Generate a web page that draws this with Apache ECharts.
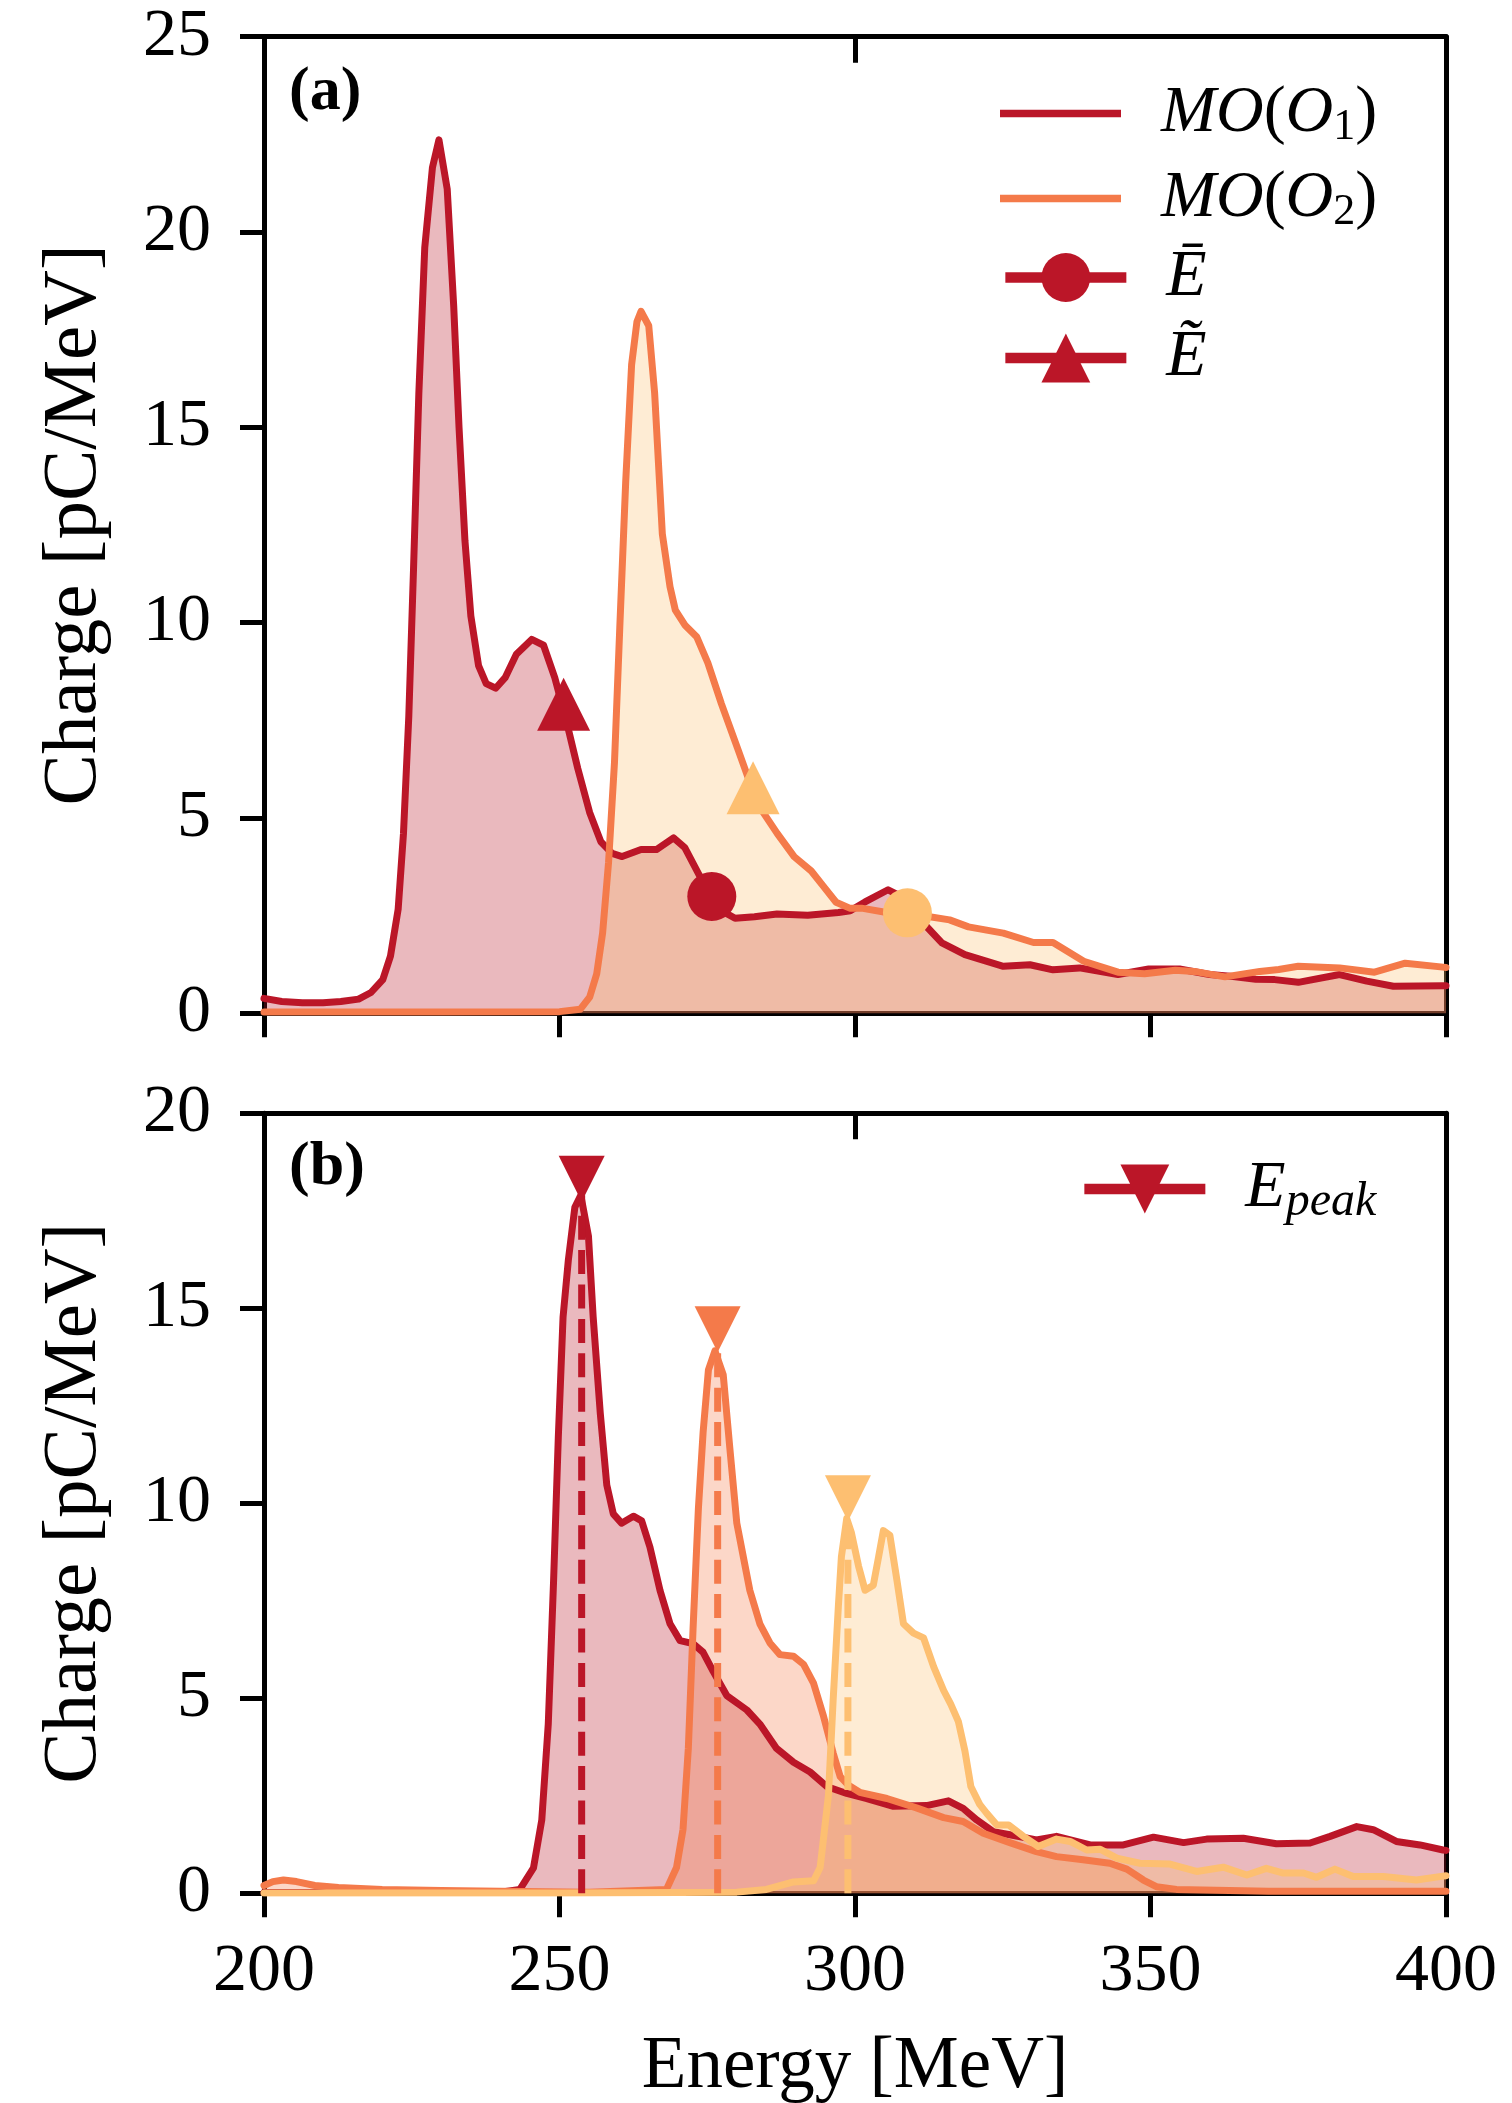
<!DOCTYPE html>
<html><head><meta charset="utf-8">
<script src="https://cdn.jsdelivr.net/npm/echarts@6/dist/echarts.min.js"></script>
<style>html,body{margin:0;padding:0;background:#fff}#c{width:1512px;height:2103px}</style>
</head><body><div id="c"></div>
<script>
// ---------- data ----------
const xTicks = [200, 250, 300, 350, 400];
const yTicksTop = [0, 5, 10, 15, 20, 25];
const yTicksBottom = [0, 5, 10, 15, 20];

// panel (a) MO(O1)  [energy MeV, charge pC/MeV]
const topRed = [[200,0.38],[203,0.3],[206.5,0.27],[210,0.27],[213,0.3],[216,0.36],[218.1,0.53],[220.1,0.86],[221.4,1.46],[222.7,2.66],[223.6,4.6],[224.5,7.6],[225.3,11.37],[226.2,15.87],[227.2,19.6],[228.5,21.65],[229.6,22.36],[231,21.1],[232.1,18.1],[233,15.0],[234,12.1],[235,10.17],[236.3,8.9],[237.6,8.44],[239.2,8.32],[240.8,8.59],[242.7,9.19],[245.3,9.57],[247.3,9.42],[249.2,8.59],[251.2,7.46],[253.1,6.26],[255.1,5.14],[257,4.39],[258.9,4.09],[260.6,4.01],[263.8,4.19],[266.4,4.19],[269.3,4.49],[271.2,4.24],[273.8,3.49],[275.8,2.96],[277.7,2.6],[279.7,2.43],[283,2.47],[286.8,2.54],[292,2.51],[297.2,2.58],[299.2,2.62],[301.7,2.85],[305.6,3.16],[308.9,2.91],[312.1,2.22],[314.7,1.8],[318.6,1.5],[325.1,1.2],[329.6,1.24],[333.5,1.11],[338,1.16],[344.5,0.99],[349.7,1.13],[354.9,1.13],[360,0.99],[364,0.94],[367.8,0.87],[371,0.86],[375,0.79],[382,0.99],[386.6,0.82],[391.1,0.69],[399.5,0.7],[400,0.7]];
// panel (a) MO(O2)
const topOrange = [[200,0.03],[230,0.03],[250,0.04],[253.5,0.1],[255.1,0.41],[256.3,1.01],[257.3,2.06],[258.3,3.86],[259.3,6.41],[260.2,9.87],[261.2,13.6],[262.2,16.6],[263.1,17.7],[263.8,17.97],[265.1,17.6],[266.1,15.87],[267.4,12.27],[268.7,10.92],[269.6,10.32],[271.2,9.94],[273.2,9.64],[275.1,8.97],[277.4,7.92],[280.3,6.71],[283.5,5.36],[286.8,4.61],[289.7,4.01],[292.6,3.64],[294.6,3.26],[296.8,2.84],[299.1,2.69],[301.1,2.69],[305.6,2.57],[312.1,2.48],[316,2.39],[319.2,2.21],[325.1,2.05],[330.2,1.81],[333.5,1.81],[338.7,1.33],[344.5,1.05],[349,1.01],[354.2,1.1],[357.4,1.07],[362.6,0.93],[368.5,1.07],[371.7,1.12],[375,1.2],[382,1.16],[387.9,1.05],[393.1,1.28],[399.5,1.18],[400,1.17]];
// mean energy (E bar) and median energy (E tilde) markers
const meanEnergy = [[275.77,2.99],[308.87,2.57]];
const medianEnergy = [[250.7,7.91],[282.75,5.77]];

// panel (b) three spectra
const botRed = [[200,0.02],[220,0.02],[240,0.03],[243.3,0.1],[245.6,0.65],[247,1.88],[248.1,4.34],[249,8.02],[249.8,11.7],[250.6,14.77],[251.5,16.24],[252.6,17.59],[253.6,17.9],[254.9,16.85],[255.7,14.77],[256.9,12.31],[258,10.47],[259.1,9.73],[260.5,9.49],[262.5,9.67],[263.9,9.55],[265.3,8.88],[267,7.77],[268.7,6.91],[270.4,6.48],[272.6,6.4],[274.3,6.18],[276,5.69],[278.3,5.07],[281.7,4.7],[283.9,4.34],[286.7,3.72],[289.6,3.36],[292.4,3.11],[295.2,2.74],[298.6,2.56],[302,2.43],[306.5,2.23],[312.1,2.25],[315.8,2.37],[318.3,2.18],[320.6,1.88],[323.4,1.58],[326.2,1.5],[330.7,1.37],[334.1,1.46],[339.8,1.24],[345.4,1.24],[350.5,1.44],[355.6,1.3],[359.5,1.39],[365.7,1.41],[371.3,1.27],[377,1.29],[380.4,1.46],[384.9,1.71],[387.7,1.63],[391.6,1.33],[395.6,1.24],[399.5,1.11],[400,1.1]];
const botOrange = [[200,0.2],[201.5,0.3],[203.3,0.34],[205.5,0.3],[208.6,0.2],[212.6,0.15],[220,0.1],[230,0.07],[240,0.05],[255,0.03],[268.1,0.1],[269.8,0.66],[270.9,1.64],[271.8,3.72],[272.6,6.79],[273.5,9.86],[274.3,11.82],[275.2,13.42],[276.3,13.91],[277.7,13.3],[278.8,11.45],[280,9.49],[281.1,8.63],[282.2,7.77],[283.9,6.91],[285.6,6.42],[287.3,6.12],[289.6,6.08],[291.3,5.87],[293,5.38],[294.6,4.58],[296.3,3.6],[297.5,2.99],[298.9,2.77],[300.8,2.59],[305.4,2.43],[310.4,2.19],[315,1.94],[318.3,1.84],[321.7,1.54],[326.2,1.3],[330.7,1.07],[334.1,0.94],[338.6,0.86],[343.1,0.77],[346,0.62],[348.8,0.34],[351,0.17],[354.4,0.1],[370,0.05],[400,0.05]];
const botLight = [[200,0.01],[250,0.01],[280,0.03],[285,0.1],[289.6,0.29],[293,0.32],[294.1,0.66],[295.5,2.5],[296.3,4.95],[297.2,7.4],[297.7,8.63],[298.6,9.61],[299.4,9.24],[300.6,8.39],[301.7,7.77],[303.1,7.9],[304,8.63],[304.8,9.3],[305.9,9.18],[307.1,8.02],[308.2,6.91],[309.9,6.67],[311.6,6.55],[313.3,5.81],[315,5.2],[316.2,4.85],[317.5,4.4],[318.6,3.65],[319.6,2.74],[321.1,2.28],[322.3,2.05],[324,1.75],[326,1.75],[328.5,1.46],[331,1.2],[334.1,1.39],[336.4,1.33],[339.2,1.11],[341.5,1.13],[344.3,0.9],[348.2,0.77],[353.3,0.75],[357.8,0.56],[362.3,0.67],[366.3,0.47],[369.6,0.64],[372.5,0.52],[375.9,0.52],[378.1,0.41],[381.2,0.62],[384.3,0.43],[389.4,0.43],[395,0.34],[399.5,0.44],[400,0.45]];
// peak energies
const peakEnergy = [253.75, 276.76, 298.8];
const peakMarkerCharge = [18.32, 14.46, 10.13];
const peakCurveCharge = [17.9, 13.9, 9.61];

// ---------- style ----------
const F = 'Liberation Serif';
const RED = '#BB1628', ORANGE = '#F47A4A', LIGHT = '#FDBF71';
const LW = 7;

function curve(name, data, lineColor, fillColor, xi, yi) {
  return { type: 'line', name, data, xAxisIndex: xi, yAxisIndex: yi, symbol: 'none', showSymbol: false,
    smooth: false, silent: true, z: 2, animation: false,
    lineStyle: { color: lineColor, width: LW, join: 'round', cap: 'round' },
    itemStyle: { color: lineColor },
    areaStyle: { color: fillColor, opacity: 0.3 }, emphasis: { disabled: true } };
}
function markers(name, pts, colors, symbol, size, rotate, xi, yi) {
  return { type: 'line', name, xAxisIndex: xi, yAxisIndex: yi, symbol, symbolSize: size, symbolRotate: rotate,
    showSymbol: true, silent: true, z: 6, animation: false,
    data: pts.map((p, i) => ({ value: p, itemStyle: { color: colors[i], borderWidth: 0 } })),
    lineStyle: { color: colors[0], opacity: 0, width: 0 },
    itemStyle: { color: colors[0], borderWidth: 0 }, emphasis: { disabled: true } };
}
function dashed(e, v, color) {
  return { type: 'line', name: 'peak' + e, xAxisIndex: 2, yAxisIndex: 2, symbol: 'none', silent: true, z: 4,
    animation: false, data: [[e, 0], [e, v]],
    lineStyle: { color, width: LW, type: [24, 10.4] }, emphasis: { disabled: true } };
}

function xAx(grid, showLabel) {
  return [{
    gridIndex: grid, type: 'value', position: 'bottom', min: xTicks[0], max: xTicks[xTicks.length - 1],
    interval: xTicks[1] - xTicks[0],
    axisLine: { show: true, onZero: false, lineStyle: { color: '#000', width: 5 } },
    axisTick: { show: true, inside: false, length: 24, lineStyle: { color: '#000', width: 5 } },
    axisLabel: { show: showLabel, margin: 44, fontFamily: F, fontSize: 68, lineHeight: 70, color: '#000' },
    splitLine: { show: false },
    name: showLabel ? 'Energy [MeV]' : '', nameLocation: 'middle', nameGap: 138,
    nameTextStyle: { fontFamily: F, fontSize: 73, lineHeight: 74, color: '#000' }
  }, {
    gridIndex: grid, type: 'value', position: 'top', min: xTicks[0], max: xTicks[xTicks.length - 1], interval: 100,
    axisLine: { show: true, onZero: false, lineStyle: { color: '#000', width: 5 } },
    axisTick: { show: true, inside: true, length: 26, lineStyle: { color: '#000', width: 5 } },
    axisLabel: { show: false }, splitLine: { show: false }
  }];
}
function yAx(grid, ticks) {
  return [{
    gridIndex: grid, type: 'value', position: 'left', min: ticks[0], max: ticks[ticks.length - 1],
    interval: ticks[1] - ticks[0],
    axisLine: { show: true, onZero: false, lineStyle: { color: '#000', width: 5 } },
    axisTick: { show: true, inside: false, length: 24, lineStyle: { color: '#000', width: 5 } },
    axisLabel: { show: true, margin: 53, fontFamily: F, fontSize: 68, color: '#000' },
    splitLine: { show: false },
    name: 'Charge [pC/MeV]', nameLocation: 'middle', nameGap: 150,
    nameTextStyle: { fontFamily: F, fontSize: 77, lineHeight: 78, color: '#000' }
  }, {
    gridIndex: grid, type: 'value', position: 'right', min: ticks[0], max: ticks[ticks.length - 1],
    axisLine: { show: true, onZero: false, lineStyle: { color: '#000', width: 5 } },
    axisTick: { show: false }, axisLabel: { show: false }, splitLine: { show: false }
  }];
}

const legendText = {
  'MO(O1)': '{it0|MO}{rm|(}{it|O}{sub|1}{rm|)}',
  'MO(O2)': '{it0|MO}{rm|(}{it|O}{sub|2}{rm|)}',
  'Ē': '{it0|Ē}',
  'Ẽ': '{it0|Ẽ}',
  'Epeak': '{it0|E}{subit|peak}'
};
const rich = {
  it0: { fontFamily: F, fontStyle: 'italic', fontSize: 66, lineHeight: 62, color: '#000', padding: [0, 0, 0, 35] },
  it: { fontFamily: F, fontStyle: 'italic', fontSize: 66, lineHeight: 62, color: '#000' },
  rm: { fontFamily: F, fontSize: 66, lineHeight: 62, color: '#000' },
  sub: { fontFamily: F, fontSize: 44, lineHeight: 62, color: '#000', padding: [27, 0, 0, 0] },
  subit: { fontFamily: F, fontStyle: 'italic', fontSize: 48, lineHeight: 62, color: '#000', padding: [27, 0, 0, 0] }
};
const barIcon = 'path://M0 0H121V7.5H0Z';
function legendItem(left, top, item) {
  return { left, top, orient: 'vertical', padding: 0, itemWidth: 121, itemHeight: 61, itemGap: 0,
    selectedMode: false, data: [item], itemStyle: { borderWidth: 0 },
    formatter: n => legendText[n] || n,
    textStyle: { fontFamily: F, fontSize: 66, color: '#000', rich } };
}
const markerLegend = { lineStyle: { width: 10.7, opacity: 1, color: RED }, itemStyle: { opacity: 1, borderWidth: 0, color: RED } };

const option = {
  animation: false,
  backgroundColor: '#fff',
  title: [
    { text: '(a)', left: 289, top: 62, padding: 0, textStyle: { fontFamily: F, fontWeight: 'bold', fontSize: 62, lineHeight: 62, color: '#000' } },
    { text: '(b)', left: 289, top: 1137, padding: 0, textStyle: { fontFamily: F, fontWeight: 'bold', fontSize: 62, lineHeight: 62, color: '#000' } }
  ],
  grid: [
    { left: 264, top: 36.7, width: 1182, height: 976.5, outerBoundsMode: 'none', containLabel: false },
    { left: 264, top: 1113.3, width: 1182, height: 780, outerBoundsMode: 'none', containLabel: false }
  ],
  xAxis: [...xAx(0, false), ...xAx(1, true)],
  yAxis: [...yAx(0, yTicksTop), ...yAx(1, yTicksBottom)],
  legend: [
    legendItem(1000, 78, { name: 'MO(O1)', icon: barIcon }),
    legendItem(1000, 163, { name: 'MO(O2)', icon: barIcon }),
    legendItem(1000, 244.5, Object.assign({ name: 'Ē' }, markerLegend)),
    legendItem(1000, 325, Object.assign({ name: 'Ẽ' }, markerLegend)),
    legendItem(1079, 1151.5, Object.assign({ name: 'Epeak' }, markerLegend))
  ],
  series: [
    curve('MO(O1)', topRed, RED, RED, 0, 0),
    curve('MO(O2)', topOrange, ORANGE, LIGHT, 0, 0),
    markers('Ē', meanEnergy, [RED, LIGHT], 'circle', 49, 0, 0, 0),
    markers('Ẽ', medianEnergy, [RED, LIGHT], 'triangle', [53, 53], 0, 0, 0),
    curve('b1', botRed, RED, RED, 2, 2),
    curve('b2', botOrange, ORANGE, ORANGE, 2, 2),
    curve('b3', botLight, LIGHT, LIGHT, 2, 2),
    dashed(peakEnergy[0], peakCurveCharge[0], RED),
    dashed(peakEnergy[1], peakCurveCharge[1], ORANGE),
    dashed(peakEnergy[2], peakCurveCharge[2], LIGHT),
    markers('Epeak', peakEnergy.map((e, i) => [e, peakMarkerCharge[i]]), [RED, ORANGE, LIGHT], 'triangle', [46, 46], 180, 2, 2)
  ]
};
const chart = echarts.init(document.getElementById('c'), null, { renderer: 'canvas', width: 1512, height: 2103 });
chart.setOption(option);
</script></body></html>
